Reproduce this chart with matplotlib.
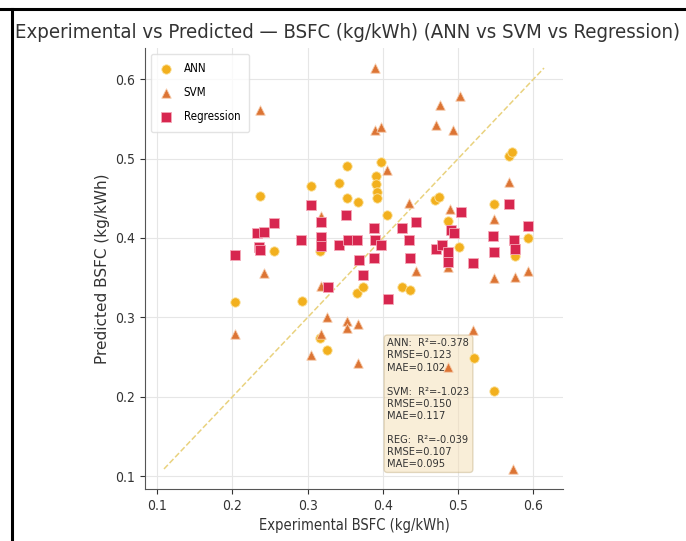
import matplotlib
matplotlib.use("Agg")
import matplotlib.pyplot as plt
from matplotlib.lines import Line2D
import numpy as np

# ---- data ----
ann_x = [0.204, 0.237, 0.255, 0.292, 0.304, 0.316, 0.316, 0.326, 0.341, 0.352,
         0.352, 0.367, 0.366, 0.373, 0.391, 0.391, 0.392, 0.392, 0.398, 0.405,
         0.425, 0.436, 0.469, 0.475, 0.487, 0.501, 0.521, 0.547, 0.547, 0.567,
         0.572, 0.575, 0.593]
ann_y = [0.319, 0.453, 0.384, 0.321, 0.465, 0.384, 0.274, 0.259, 0.469, 0.491,
         0.450, 0.445, 0.331, 0.338, 0.478, 0.468, 0.458, 0.450, 0.496, 0.429,
         0.338, 0.335, 0.448, 0.452, 0.421, 0.388, 0.249, 0.443, 0.207, 0.503,
         0.508, 0.377, 0.400]

svm_x = [0.204, 0.237, 0.242, 0.304, 0.317, 0.317, 0.317, 0.326, 0.352, 0.352,
         0.367, 0.367, 0.389, 0.389, 0.398, 0.392, 0.405, 0.434, 0.444, 0.471,
         0.476, 0.486, 0.489, 0.493, 0.503, 0.486, 0.520, 0.547, 0.547, 0.568,
         0.575, 0.593, 0.573]
svm_y = [0.279, 0.561, 0.356, 0.252, 0.428, 0.339, 0.279, 0.300, 0.295, 0.287,
         0.291, 0.242, 0.614, 0.536, 0.540, 0.397, 0.486, 0.444, 0.358, 0.542,
         0.568, 0.364, 0.437, 0.536, 0.579, 0.238, 0.284, 0.349, 0.424, 0.471,
         0.351, 0.358, 0.109]

reg_x = [0.203, 0.233, 0.242, 0.235, 0.237, 0.255, 0.291, 0.304, 0.318, 0.318,
         0.318, 0.327, 0.341, 0.351, 0.353, 0.366, 0.368, 0.373, 0.388, 0.388,
         0.390, 0.397, 0.407, 0.425, 0.435, 0.436, 0.444, 0.471, 0.478, 0.486,
         0.486, 0.490, 0.494, 0.504, 0.520, 0.546, 0.548, 0.568, 0.574, 0.576,
         0.593]
reg_y = [0.378, 0.406, 0.408, 0.389, 0.385, 0.419, 0.397, 0.442, 0.420, 0.401,
         0.390, 0.338, 0.391, 0.429, 0.397, 0.397, 0.372, 0.353, 0.413, 0.375,
         0.398, 0.391, 0.323, 0.413, 0.398, 0.375, 0.420, 0.386, 0.391, 0.382,
         0.370, 0.410, 0.406, 0.433, 0.369, 0.403, 0.382, 0.443, 0.398, 0.386,
         0.415]

stats_text = ("ANN:  R\u00b2=-0.378\nRMSE=0.123\nMAE=0.102\n\n"
              "SVM:  R\u00b2=-1.023\nRMSE=0.150\nMAE=0.117\n\n"
              "REG:  R\u00b2=-0.039\nRMSE=0.107\nMAE=0.095")

title = "Experimental vs Predicted \u2014 BSFC (kg/kWh) (ANN vs SVM vs Regression)"

# ---- figure ----
fig = plt.figure(figsize=(6.86, 5.41), dpi=100)
ax = fig.add_axes([145/686, 1-489/541, (563-145)/686, (489-48)/541])

c_ann = "#F2B01E"
c_svm = "#DC7434"
c_reg = "#D7264F"

ax.scatter(ann_x, ann_y, s=46, marker="o", color=c_ann, edgecolors="#FBE3A0",
           linewidths=0.6, label="ANN", zorder=3)
ax.scatter(svm_x, svm_y, s=46, marker="^", color=c_svm, edgecolors="#F6C9A8",
           linewidths=0.6, label="SVM", zorder=3)
ax.scatter(reg_x, reg_y, s=44, marker="s", color=c_reg, edgecolors="#F4A9B8",
           linewidths=0.6, label="Regression", zorder=3)

allv = ann_x + ann_y + svm_x + svm_y + reg_x + reg_y
lo, hi = min(allv), max(allv)
ax.plot([lo, hi], [lo, hi], ls="--", color="#E9D27E", lw=1.1, zorder=2)

ax.set_xticks([0.1, 0.2, 0.3, 0.4, 0.5, 0.6])
ax.set_yticks([0.1, 0.2, 0.3, 0.4, 0.5, 0.6])
ax.grid(True, color="#E6E6E6", lw=0.8, zorder=0)
ax.set_axisbelow(True)
for s in ["top", "right"]:
    ax.spines[s].set_visible(False)
for s in ["left", "bottom"]:
    ax.spines[s].set_color("#555555")
ax.tick_params(labelsize=10, colors="#333333")
for lab in ax.get_xticklabels() + ax.get_yticklabels():
    lab.set_fontstretch("condensed")

ax.set_xlabel("Experimental BSFC (kg/kWh)", fontsize=10.5, color="#333333",
              fontstretch="condensed")
ax.set_ylabel("Predicted BSFC (kg/kWh)", fontsize=11, color="#333333")
ax.set_title(title, fontsize=14.6, color="#333333", fontstretch="condensed",
             pad=7, x=0.484)

leg = ax.legend(loc="upper left", prop={"size": 8.3, "stretch": "condensed"},
                frameon=True, framealpha=0.8, edgecolor="#DDDDDD", fancybox=True,
                labelspacing=0.95, handletextpad=0.9, borderpad=0.75,
                handlelength=1.2)
leg.set_zorder(2.5)

ax.text(0.58, 0.045, stats_text, transform=ax.transAxes, fontsize=7.9,
        va="bottom", ha="left", color="#333333", fontstretch="condensed",
        zorder=2.8, linespacing=1.26,
        bbox=dict(boxstyle="round,pad=0.3", facecolor="wheat", alpha=0.5,
                  edgecolor="#C8B58A"))

# screenshot frame lines
fig.add_artist(Line2D([0, 1], [1-9/541, 1-9/541], transform=fig.transFigure,
                      color="black", lw=2.2))
fig.add_artist(Line2D([12/686, 12/686], [0, 1-9/541], transform=fig.transFigure,
                      color="black", lw=2.2))

fig.savefig("out.png", dpi=100)
